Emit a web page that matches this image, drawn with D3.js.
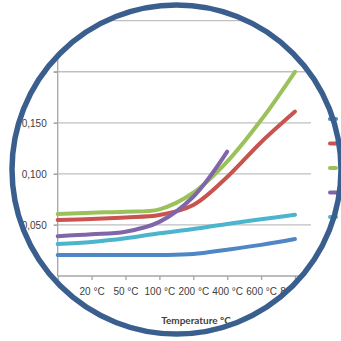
<!DOCTYPE html>
<html>
<head>
<meta charset="utf-8">
<script src="https://cdn.jsdelivr.net/npm/d3@7"></script>
<style>
  body { margin: 0; background: #fff; }
  svg { display: block; font-family: Lato, "Liberation Sans", sans-serif; }
</style>
</head>
<body>
<div id="chart"></div>
<script>
// categories (the first one sits on the y axis and shows no label)
const categories = ["0 °C", "20 °C", "50 °C", "100 °C", "200 °C", "400 °C", "600 °C", "800 °C"];
const yTicks = [0.05, 0.10, 0.15, 0.20, 0.25];

// series values
const blueValues   = [0.0206, 0.0206, 0.0206, 0.0206, 0.0215, 0.0258, 0.0305, 0.0362];
const redValues    = [0.0548, 0.0558, 0.0574, 0.0597, 0.0695, 0.0970, 0.1310, 0.1610];
const greenValues  = [0.0607, 0.0620, 0.0630, 0.0653, 0.0815, 0.1120, 0.1527, 0.2000];
const purpleValues = [0.0390, 0.0408, 0.0434, 0.0530, 0.0776, 0.1217];
const cyanValues   = [0.0313, 0.0333, 0.0369, 0.0418, 0.0460, 0.0510, 0.0555, 0.0600];

const seriesColors = ["#4f86c6", "#c9534f", "#9bc25a", "#8066a8", "#4cb5cd"];

let series = [blueValues, redValues, greenValues, purpleValues, cyanValues].map((vals, i) => ({
    color: seriesColors[i],
    values: vals.map((v, j) => ({cat: categories[j], v: v}))
}));

const W = 341, H = 341;
const cx = 176.5, cy = 169.5, R = 164.5;

let svg = d3.select("#chart").append("svg")
    .attr("width", W)
    .attr("height", H);

svg.append("defs").append("clipPath").attr("id", "disc")
    .append("circle").attr("cx", cx).attr("cy", cy).attr("r", R - 2);

let g = svg.append("g").attr("clip-path", "url(#disc)");

// scales
let plotLeft = 57.7, plotRight = 311, plotBottom = 276;
let x = d3.scalePoint().domain(categories).range([plotLeft, 295]);
let y = d3.scaleLinear().domain([0, 0.25]).range([plotBottom, 20.7]);

// gridlines
g.append("g").selectAll("line")
    .data(yTicks)
    .enter().append("line")
    .attr("x1", plotLeft - 4).attr("x2", plotRight)
    .attr("y1", d => y(d)).attr("y2", d => y(d))
    .attr("stroke", "#bfbfbf").attr("stroke-width", 1.3);

// y axis
let yAxis = g.append("g")
    .attr("transform", `translate(${plotLeft},0)`)
    .call(d3.axisLeft(y).tickValues([0].concat(yTicks)).tickSize(4).tickPadding(7)
        .tickFormat(d => d3.format(".3f")(d).replace(".", ",")));
yAxis.select(".domain").attr("stroke", "#a6a6a6").attr("stroke-width", 1.3)
    .attr("d", `M0,${plotBottom}V${y(0.25)}`);
yAxis.selectAll(".tick line").attr("stroke", "#a6a6a6").attr("stroke-width", 1.3);
yAxis.selectAll(".tick text").attr("fill", "#404040").style("font-size", "10px");
yAxis.selectAll(".tick").filter(d => d === 0).remove();

// x axis
let xAxis = g.append("g")
    .attr("transform", `translate(0,${plotBottom})`)
    .call(d3.axisBottom(x).tickSize(4).tickPadding(8)
        .tickFormat((d, i) => i === 0 ? "" : d));
xAxis.select(".domain").attr("stroke", "#a6a6a6").attr("stroke-width", 1.3)
    .attr("d", `M${plotLeft},0H${plotRight}`);
xAxis.selectAll(".tick line").attr("stroke", "#a6a6a6").attr("stroke-width", 1.3);
xAxis.selectAll(".tick text").attr("fill", "#404040").style("font-size", "10px");

// axis title
g.append("text")
    .attr("x", 196).attr("y", 324)
    .attr("text-anchor", "middle")
    .attr("fill", "#404040")
    .style("font-size", "10px")
    .style("font-weight", "bold")
    .text("Temperature °C");

// lines
let line = d3.line()
    .x(d => x(d.cat))
    .y(d => y(d.v))
    .curve(d3.curveCatmullRom.alpha(0.5));

g.append("g").selectAll("path")
    .data(series)
    .enter().append("path")
    .attr("d", d => line(d.values))
    .attr("fill", "none")
    .attr("stroke", d => d.color)
    .attr("stroke-width", 4)
    .attr("stroke-linecap", "round")
    .attr("stroke-linejoin", "round");

// legend keys, the frame covers their right ends
svg.append("g").selectAll("line")
    .data(series)
    .enter().append("line")
    .attr("x1", 330).attr("x2", 336)
    .attr("y1", (d, i) => 119 + i * 24.5)
    .attr("y2", (d, i) => 119 + i * 24.5)
    .attr("stroke", d => d.color)
    .attr("stroke-width", 4)
    .attr("stroke-linecap", "round");

// circle frame
svg.append("circle")
    .attr("cx", cx).attr("cy", cy).attr("r", R)
    .attr("fill", "none")
    .attr("stroke", "#3a5f8e")
    .attr("stroke-width", 5.5);
</script>
</body>
</html>
